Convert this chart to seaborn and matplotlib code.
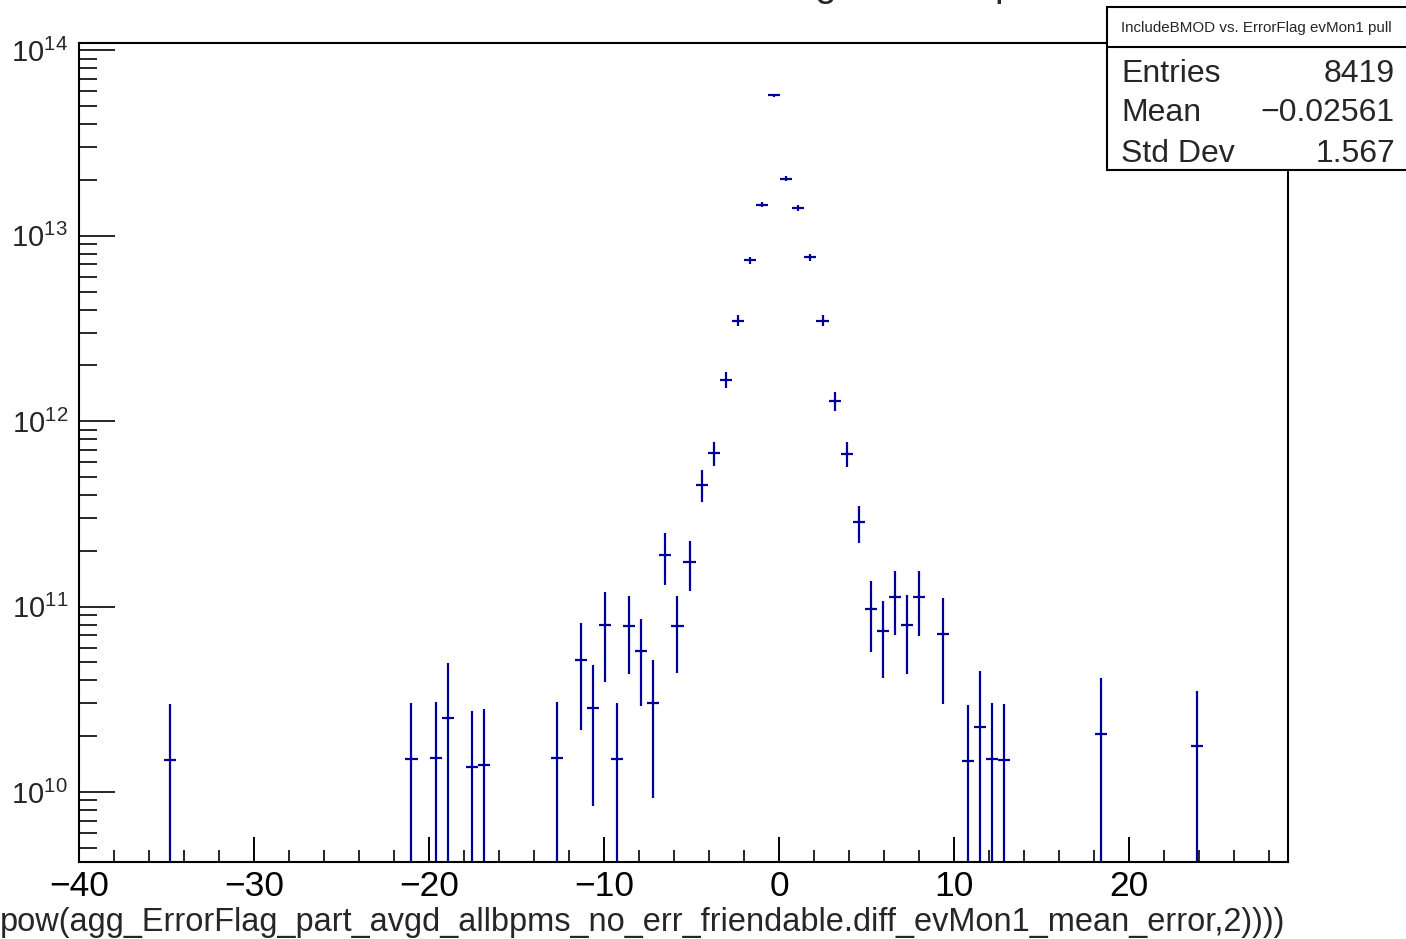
import numpy as np
import pandas as pd
import seaborn as sns
import matplotlib
matplotlib.use("Agg")
import matplotlib.pyplot as plt
from matplotlib.ticker import MultipleLocator, LogLocator, NullFormatter
from matplotlib.patches import Rectangle
from matplotlib.lines import Line2D

# histogram (100 bins from -40 to 29.09, empty bins left out)
bin_width = 0.6909
x_centers = [-34.82, -21.00, -19.62, -18.93, -17.55, -16.85, -12.71, -11.33,
             -10.64, -9.95, -9.25, -8.56, -7.87, -7.18, -6.49, -5.80, -5.11,
             -4.42, -3.73, -3.04, -2.35, -1.66, -0.96, -0.27, 0.42, 1.11, 1.80,
             2.49, 3.18, 3.87, 4.56, 5.25, 5.94, 6.64, 7.33, 8.02, 9.40, 10.78,
             11.47, 12.16, 12.85, 18.38, 23.91]
counts = [1.49e10, 1.51e10, 1.52e10, 2.49e10, 1.37e10, 1.40e10, 1.52e10, 5.15e10,
          2.84e10, 7.93e10, 1.51e10, 7.85e10, 5.75e10, 3.03e10, 1.90e11, 7.89e10,
          1.73e11, 4.55e11, 6.72e11, 1.67e12, 3.48e12, 7.36e12, 1.47e13, 5.72e13,
          2.03e13, 1.41e13, 7.64e12, 3.48e12, 1.29e12, 6.68e11, 2.84e11, 9.67e10,
          7.41e10, 1.13e11, 7.93e10, 1.12e11, 7.08e10, 1.47e10, 2.25e10, 1.51e10,
          1.49e10, 2.06e10, 1.76e10]
errors = [1.49e10, 1.51e10, 1.52e10, 2.49e10, 1.37e10, 1.40e10, 1.52e10, 3.0e10,
          2.0e10, 4.0e10, 1.51e10, 3.5e10, 2.85e10, 2.1e10, 5.9e10, 3.5e10,
          5.2e10, 9.0e10, 1.0e11, 1.65e11, 2.4e11, 3.4e11, 4.8e11, 9.0e11,
          5.8e11, 4.8e11, 3.6e11, 2.4e11, 1.5e11, 1.0e11, 6.5e10, 4.0e10,
          3.3e10, 4.3e10, 3.6e10, 4.3e10, 4.1e10, 1.47e10, 2.25e10, 1.51e10,
          1.49e10, 2.06e10, 1.76e10]

title = "IncludeBMOD vs. ErrorFlag evMon1 pull"
x_label = "pow(agg_ErrorFlag_part_avgd_allbpms_no_err_friendable.diff_evMon1_mean_error,2))))"
stats_names = ["Entries", "Mean", "Std Dev"]
stats_values = ["8419", "\u22120.02561", "1.567"]

df = pd.DataFrame({"x": x_centers, "y": counts, "err": errors})

sns.set_theme(style="ticks")
plt.rcParams["font.family"] = ["Liberation Sans", "DejaVu Sans"]
plt.rcParams["mathtext.default"] = "regular"

W, H = 1406, 939
fig = plt.figure(figsize=(W / 100, H / 100), dpi=100)
ax = fig.add_axes([79 / W, 1 - 862 / H, (1288 - 79) / W, (862 - 43) / H])

blue = "#000099"
ax.set_yscale("log", nonpositive="clip")
ax.errorbar(df["x"], df["y"], xerr=bin_width / 2, yerr=df["err"], fmt="none",
            ecolor=blue, elinewidth=1.6, capsize=0)

ax.set_xlim(-40, 29.09)
ax.set_ylim(4.19e9, 1.095e14)

ax.xaxis.set_major_locator(MultipleLocator(10))
ax.xaxis.set_minor_locator(MultipleLocator(2))
ax.yaxis.set_major_locator(LogLocator(base=10))
ax.yaxis.set_minor_locator(LogLocator(base=10, subs=np.arange(2, 10)))
ax.yaxis.set_minor_formatter(NullFormatter())

ax.tick_params(axis="x", which="major", direction="in", length=17.7, width=1.4,
               labelsize=25.5, pad=6, colors="black")
ax.tick_params(axis="x", which="minor", direction="in", length=8.9, width=1.4)
ax.tick_params(axis="y", which="major", direction="in", length=26, width=1.4,
               labelsize=21, pad=8)
ax.tick_params(axis="y", which="minor", direction="in", length=13, width=1.4)
for s in ax.spines.values():
    s.set_linewidth(1.5)
    s.set_color("black")
ax.grid(False)

# x-axis title, right aligned and running off the left edge
fig.text(1285 / W, 1 - 931 / H, x_label, ha="right", va="baseline", fontsize=23.45)

# title, almost entirely above the canvas
fig.text(711 / W, 1 + 4 / H, title, ha="center", va="baseline", fontsize=27.7)

# stats box
box = Rectangle((1107 / W, 1 - 170 / H), (1410 - 1107) / W, (170 - 7) / H,
                transform=fig.transFigure, facecolor="white", edgecolor="black",
                linewidth=1.5, zorder=10, clip_on=False)
fig.add_artist(box)
fig.add_artist(Line2D([1107 / W, 1.0], [1 - 47 / H, 1 - 47 / H],
                      transform=fig.transFigure, color="black", lw=1.5, zorder=11))
fig.text(1256 / W, 1 - 28 / H, title, ha="center", va="center", fontsize=10.9,
         zorder=12)
baselines = [82, 121, 162]
for name, val, b in zip(stats_names, stats_values, baselines):
    fig.text(1121 / W, 1 - b / H, name, ha="left", va="baseline", fontsize=23,
             zorder=12)
    fig.text(1395 / W, 1 - b / H, val, ha="right", va="baseline", fontsize=23,
             zorder=12)

fig.savefig("out.png", dpi=100, facecolor="white")
